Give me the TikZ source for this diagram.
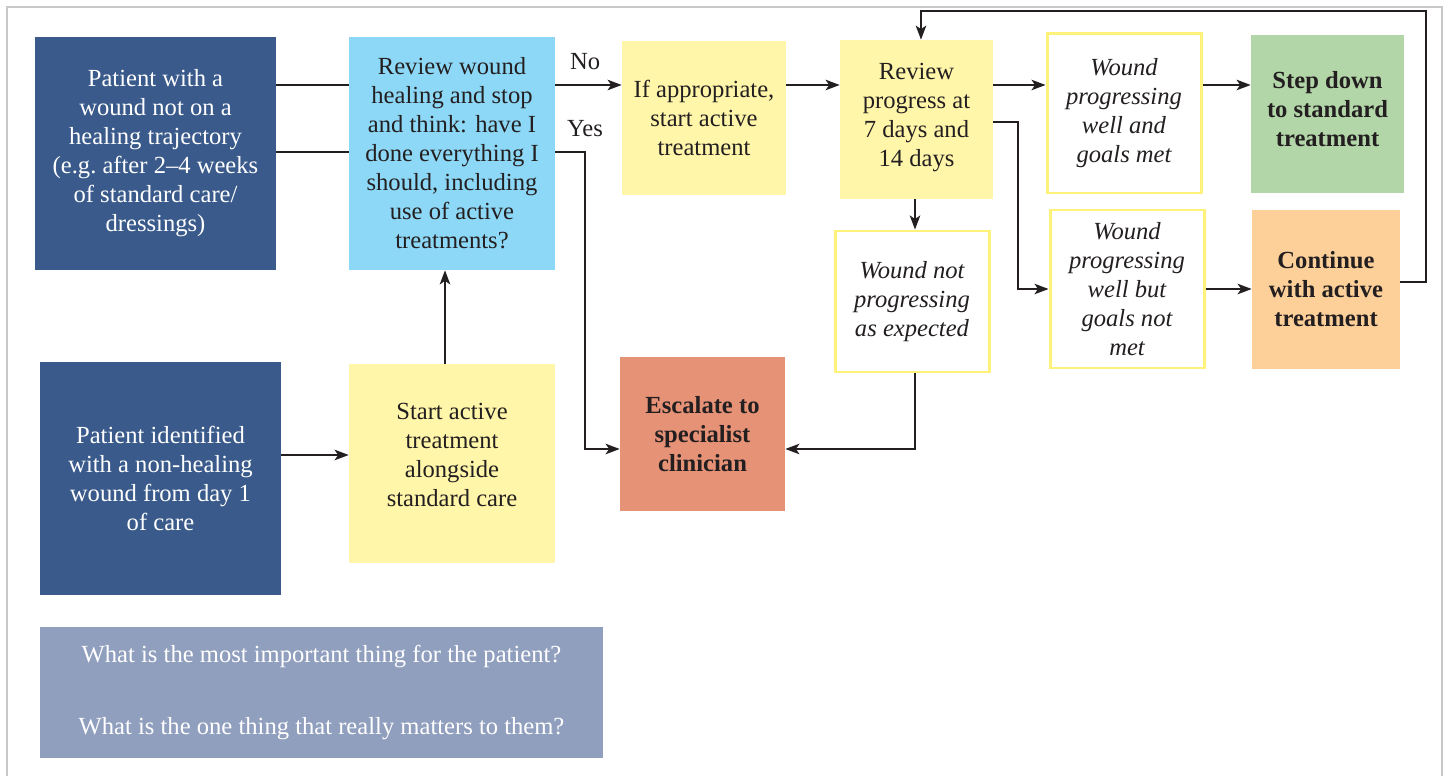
\documentclass[tikz,border=0pt]{standalone}
\usepackage{fontspec}
\setmainfont{Liberation Serif}
\usepackage[dvipsnames]{xcolor}
\usetikzlibrary{arrows, arrows.meta}
\definecolor{navyblock}{HTML}{395A8A}
\definecolor{skyblock}{HTML}{8DD8F6}
\definecolor{lemonblock}{HTML}{FFF6AA}
\definecolor{lemonline}{HTML}{FFF27A}
\definecolor{mintblock}{HTML}{B3D6A9}
\definecolor{peachblock}{HTML}{FDCF99}
\definecolor{salmonblock}{HTML}{E69277}
\definecolor{slateblock}{HTML}{919FBE}
\definecolor{inkdark}{HTML}{231F20}
\definecolor{framegray}{HTML}{C8C8C8}

\begin{document}
\begin{tikzpicture}[x=0.02cm, y=-0.02cm,
  blk/.style={inner sep=0pt, align=center, text=inkdark, font=\fontsize{14}{16.5}\selectfont},
  sz/.style 2 args={minimum width=#1*0.02cm, minimum height=#2*0.02cm},
  outlined/.style={blk, fill=white, draw=lemonline, line width=1.7pt, font=\fontsize{14}{16.5}\selectfont\itshape},
  line/.style={draw=inkdark, line width=0.8pt},
  arr/.style={line, -{Stealth[length=8pt, width=6pt, inset=2pt]}}]
\useasboundingbox (0,0) rectangle (1448,776);
\draw[framegray, line width=1.1pt] (7,776)--(7,7)--(1442,7)--(1442,776); %frame

% left column
\node[blk, sz={241}{233}, fill=navyblock, text=white] (wound) at (155.5,153.5) {Patient with a\\wound not on a\\healing trajectory\\(e.g.\ after 2--4 weeks\\of standard care/\\dressings)};
\node[blk, sz={241}{233}, fill=navyblock, text=white] (dayone) at (160.5,478.5) {Patient identified\\with a non-healing\\wound from day 1\\of care};
\node[blk, sz={563}{131}, fill=slateblock, text=white] (matters) at (321.5,692.5) {What is the most important thing for the patient?\\[25pt]What is the one thing that really matters to them?};

% review and start
\node[blk, sz={206}{233}, fill=skyblock] (stop) at (452,153.5) {Review wound\\healing and stop\\and think: have I\\done everything I\\should, including\\use of active\\treatments?};
\node[blk, sz={206}{199}, fill=lemonblock] (start) at (452,463.5) {Start active\\treatment\\alongside\\standard care\\[-7pt]};
\node[blk, sz={164}{154}, fill=lemonblock] (ifapp) at (704,118) {If appropriate,\\start active\\treatment};
\node[blk, sz={165}{154}, fill=salmonblock, font=\fontsize{14}{16.5}\selectfont\bfseries] (escalate) at (702.5,434) {Escalate to\\specialist\\clinician};

% progress review
\node[blk, sz={153}{159}, fill=lemonblock] (review) at (916.5,119.5) {Review\\progress at\\7 days and\\14 days\\[-11pt]};
\node[outlined, sz={154}{141}] (notprog) at (912,301.5) {Wound not\\progressing\\as expected};
\node[outlined, sz={154}{159}] (goalsmet) at (1124,113.5) {Wound\\progressing\\well and\\goals met};
\node[outlined, sz={154}{158}] (notmet) at (1127,289) {Wound\\progressing\\well but\\goals not\\met};
\node[blk, sz={153}{158}, fill=mintblock, font=\fontsize{14}{16.5}\selectfont\bfseries] (stepdown) at (1327.5,114) {Step down\\to standard\\treatment\\[-11pt]};
\node[blk, sz={148}{159}, fill=peachblock, font=\fontsize{14}{16.5}\selectfont\bfseries] (continue) at (1326,289.5) {Continue\\with active\\treatment};

% rows and columns used by connectors
\coordinate (rowa) at (0,85);
\coordinate (rowb) at (0,152);
\coordinate (rowc) at (0,122);
\coordinate (rowd) at (0,449);
\coordinate (rowe) at (0,455);
\coordinate (rowf) at (0,282);
\coordinate (yesx) at (585,0);
\coordinate (upx) at (445,0);
\coordinate (downx) at (915,0);
\coordinate (splitx) at (1018,0);
\coordinate (loopr) at (1426,11);
\coordinate (loopl) at (921,11);

\draw[line] (wound.east |- rowa) -- (stop.west |- rowa);
\draw[line] (wound.east |- rowb) -- (stop.west |- rowb);
\draw[arr] (stop.east |- rowa) -- node[blk, above=8pt, pos=0.45] (no) {No} (ifapp.west |- rowa);
\draw[arr] (stop.east |- rowb) -| node[blk, pos=0.5, above=8pt] (yes) {Yes} (yesx |- rowd) -- (escalate.west |- rowd);
\draw[arr] (upx |- start.north) -- (upx |- stop.south);
\draw[arr] (dayone.east |- rowe) -- (start.west |- rowe);
\draw[arr] (ifapp.east |- rowa) -- (review.west |- rowa);
\draw[arr] (review.east |- rowa) -- (goalsmet.west |- rowa);
\draw[arr] (review.east |- rowc) -| (splitx |- notmet.west) -- (notmet.west);
\draw[arr] (downx |- review.south) -- (downx |- notprog.north);
\draw[arr] (downx |- notprog.south) |- (escalate.east |- rowd);
\draw[arr] (goalsmet.east |- rowa) -- (stepdown.west |- rowa);
\draw[arr] (notmet.east) -- (continue.west |- notmet.east);
\draw[arr] (continue.east |- rowf) -| (loopr) -- (loopl) -- (loopl |- review.north);
\end{tikzpicture}
\end{document}
